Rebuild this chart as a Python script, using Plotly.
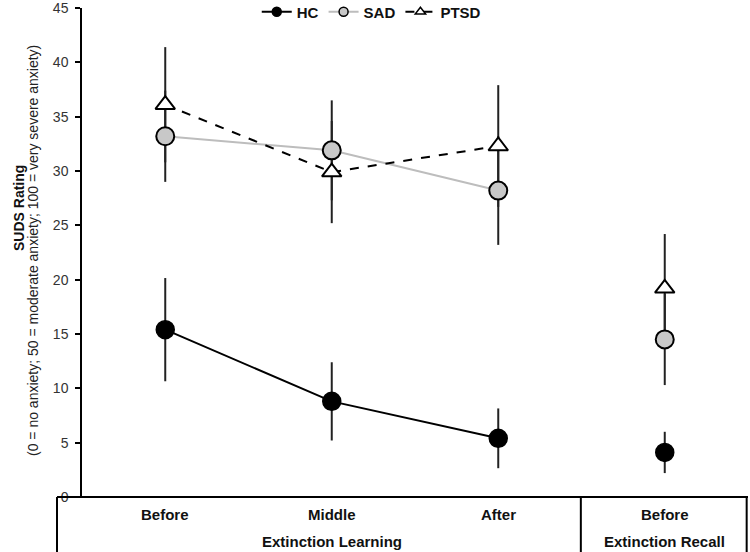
import plotly.graph_objects as go

categories = ["Before", "Middle", "After", "Before"]
phase_labels = ["Extinction Learning", "Extinction Recall"]
groups = ["HC", "SAD", "PTSD"]

hc_mean = [15.4, 8.8, 5.4, 4.1]
hc_err = [4.75, 3.6, 2.75, 1.9]
sad_mean = [33.2, 31.9, 28.2, 14.5]
sad_err = [4.2, 4.6, 5.0, 4.2]
ptsd_mean = [36.1, 29.9, 32.3, 19.2]
ptsd_err = [5.3, 4.7, 5.6, 5.0]
y_ticks = [0, 5, 10, 15, 20, 25, 30, 35, 40, 45]

xpos = list(range(len(categories)))
FONT = "Liberation Sans, Arial, sans-serif"

styles = {
    "HC": dict(mean=hc_mean, err=hc_err, line=dict(color="black", width=2),
               marker=dict(symbol="circle", color="black", size=18, line=dict(color="black", width=1.5))),
    "SAD": dict(mean=sad_mean, err=sad_err, line=dict(color="#bdbdbd", width=2),
                marker=dict(symbol="circle", color="#c8c8c8", size=18, line=dict(color="black", width=2))),
    "PTSD": dict(mean=ptsd_mean, err=ptsd_err, line=dict(color="black", width=2, dash="dash"),
                 marker=dict(symbol="triangle-up", color="white", size=17, line=dict(color="black", width=2))),
}

fig = go.Figure()

# error bars first (behind everything)
for g in groups:
    s = styles[g]
    fig.add_trace(go.Scatter(
        x=xpos, y=s["mean"], mode="markers",
        marker=dict(size=1, opacity=0),
        error_y=dict(type="data", array=s["err"], visible=True, color="#222222", thickness=2, width=0),
        showlegend=False, hoverinfo="skip"))

# connecting lines (Extinction Learning only)
for g in groups:
    s = styles[g]
    fig.add_trace(go.Scatter(x=xpos[:3], y=s["mean"][:3], mode="lines", line=s["line"],
                             showlegend=False, hoverinfo="skip"))

# markers
for g in ["SAD", "PTSD", "HC"]:
    s = styles[g]
    fig.add_trace(go.Scatter(x=xpos, y=s["mean"], mode="markers", marker=s["marker"],
                             showlegend=False, name=g))

# legend entries
for g in groups:
    s = styles[g]
    m = dict(s["marker"])
    m["size"] = 9
    m["line"] = dict(color="black", width=1.5)
    fig.add_trace(go.Scatter(x=[None], y=[None], mode="lines+markers", name=g,
                             line=s["line"], marker=m))

lab_font = dict(family=FONT, size=15, color="#111111", weight="bold")
# category labels
for i, c in enumerate(categories):
    fig.add_annotation(x=i, y=-0.0348, xref="x", yref="paper", text=c, showarrow=False,
                       font=lab_font, yanchor="middle")
fig.add_annotation(x=1, y=-0.092, xref="x", yref="paper", text=phase_labels[0], showarrow=False,
                   font=lab_font, yanchor="middle")
fig.add_annotation(x=3, y=-0.092, xref="x", yref="paper", text=phase_labels[1], showarrow=False,
                   font=lab_font, yanchor="middle")

# y axis titles
fig.add_annotation(x=(9 - 82) / 666, y=(497 - 208) / 489, xref="paper", yref="paper",
                   text="SUDS Rating", textangle=-90, showarrow=False,
                   font=dict(family=FONT, size=14, color="#111111", weight="bold"))
fig.add_annotation(x=(23 - 82) / 666, y=(497 - 251) / 489, xref="paper", yref="paper",
                   text="(0 = no anxiety; 50 = moderate anxiety; 100 = very severe anxiety)",
                   textangle=-90, showarrow=False, font=dict(family=FONT, size=14, color="#222222"))

# bottom box lines
line_style = dict(color="black", width=2)
fig.add_shape(type="line", xref="paper", yref="paper", x0=-0.0375, x1=1.0, y0=0, y1=0, line=line_style)
for xp in [-0.0375, 0.749, 0.998]:
    fig.add_shape(type="line", xref="paper", yref="paper", x0=xp, x1=xp, y0=0, y1=-0.13, line=line_style)

fig.update_layout(
    width=750, height=552,
    margin=dict(l=82, r=2, t=8, b=55, autoexpand=False),
    plot_bgcolor="white", paper_bgcolor="white",
    font=dict(family=FONT),
    xaxis=dict(range=[-0.5, 3.5], showticklabels=False, ticks="", showgrid=False,
               zeroline=False, showline=False),
    yaxis=dict(range=[0, 45], tickvals=y_ticks, ticks="outside", ticklen=5, tickwidth=1.5,
               tickcolor="black", showgrid=False, zeroline=False, showline=True,
               linecolor="black", linewidth=1.5, ticklabelstandoff=4, ticklabeloverflow="allow",
               tickfont=dict(family=FONT, size=14, color="#333333")),
    legend=dict(orientation="h", xref="container", yref="container", x=0.495, xanchor="center",
                y=1 - 12 / 552, yanchor="middle",
                bgcolor="rgba(0,0,0,0)", font=dict(family=FONT, size=15, color="#111111", weight="bold"),
                tracegroupgap=0),
    showlegend=True,
)

fig.write_html("out.html", config={"displayModeBar": False},
               post_script="document.body.style.margin='0px';")
